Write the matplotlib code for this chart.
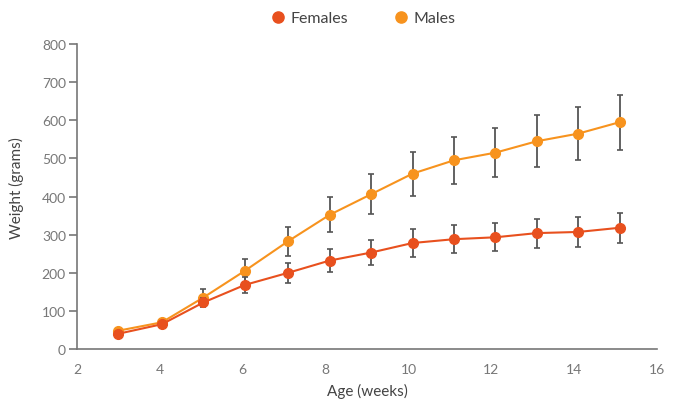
import matplotlib.pyplot as plt
import numpy as np

plt.rcParams['font.family'] = ['Lato', 'DejaVu Sans']

# data
age = [3.0, 4.05, 5.05, 6.05, 7.1, 8.1, 9.1, 10.1, 11.1, 12.1, 13.1, 14.1, 15.1]
females = [40, 65, 122, 168, 200, 232, 253, 278, 288, 293, 304, 307, 318]
females_err = [4, 4, 12, 22, 26, 29, 32, 37, 37, 37, 38, 40, 40]
males = [48, 70, 135, 205, 283, 352, 406, 460, 495, 515, 545, 565, 595]
males_err = [4, 4, 22, 32, 38, 46, 53, 58, 62, 65, 68, 70, 72]

c_fem = '#E8501E'
c_male = '#F7931E'
grey = '#777777'

fig = plt.figure(figsize=(6.75, 4.02), dpi=100)
ax = fig.add_axes([0.1141, 0.1294, 0.8592, 0.7586])

ax.errorbar(age, males, yerr=males_err, color=c_male, marker='o', markersize=7,
            linewidth=1.5, ecolor='#555555', elinewidth=1.3, capsize=2.5,
            capthick=1.2, label='Males', zorder=3)
ax.errorbar(age, females, yerr=females_err, color=c_fem, marker='o', markersize=7,
            linewidth=1.5, ecolor='#555555', elinewidth=1.3, capsize=2.5,
            capthick=1.2, label='Females', zorder=4)

ax.set_xlim(2, 16)
ax.set_ylim(0, 800)
ax.set_xticks(range(2, 17, 2))
ax.set_yticks(range(0, 801, 100))

for s in ['top', 'right']:
    ax.spines[s].set_visible(False)
for s in ['left', 'bottom']:
    ax.spines[s].set_color(grey)
    ax.spines[s].set_linewidth(1.2)

ax.tick_params(axis='y', colors=grey, labelsize=10, length=6, width=1.2, pad=2)
ax.tick_params(axis='x', colors=grey, labelsize=10, length=0, pad=10)

ax.set_xlabel('Age (weeks)', fontsize=11, color='#444444', labelpad=6)
ax.set_ylabel('Weight (grams)', fontsize=11, color='#444444')
ax.yaxis.set_label_coords(-0.092, 0.53)

handles, labels = ax.get_legend_handles_labels()
h = {l: hh[0] for hh, l in zip(handles, labels)}
leg = fig.legend([h['Females'], h['Males']], ['Females', 'Males'],
                 loc='center', bbox_to_anchor=(0.539, 0.952), ncol=2, frameon=False,
                 fontsize=11.5, handlelength=0.8, handletextpad=0.4,
                 columnspacing=2.9, markerscale=1.15)
for line in leg.get_lines():
    line.set_linestyle('none')
for t in leg.get_texts():
    t.set_color('#444444')

fig.savefig('out.png', dpi=100)
